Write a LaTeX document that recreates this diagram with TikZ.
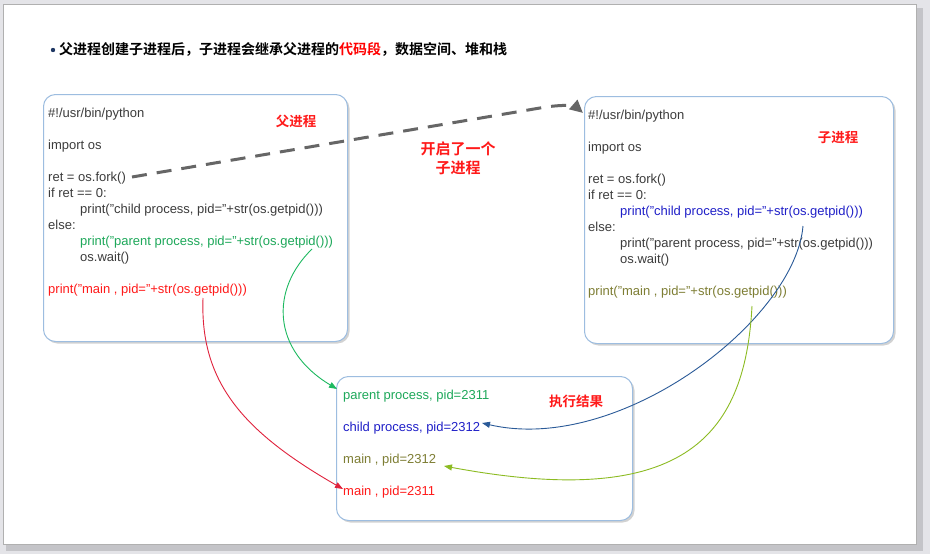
\documentclass[tikz,border=0pt]{standalone}
\usepackage{fontspec}
\setmainfont{Liberation Sans}
\newfontfamily\cjk{Noto Sans CJK SC}[BoldFont={Noto Sans CJK SC Bold}]
\usetikzlibrary{arrows.meta,shadows}
\definecolor{codegray}{HTML}{3C3C3C}
\definecolor{cgreen}{HTML}{1EA85A}
\definecolor{cblue}{HTML}{2020C8}
\definecolor{colive}{HTML}{7E7E34}
\definecolor{cred}{HTML}{FF1A1A}
\definecolor{lgreen}{HTML}{1DB960}
\definecolor{lblue}{HTML}{2A5A98}
\definecolor{lolive}{HTML}{8CBB22}
\definecolor{lred}{HTML}{E0223C}
\definecolor{boxborder}{HTML}{9DBDE0}
\definecolor{dashgray}{HTML}{666666}
\definecolor{bgouter}{HTML}{E4E4E8}
\definecolor{bgshadow}{HTML}{C4C4C8}
\definecolor{pageedge}{HTML}{B0B0B0}
\definecolor{bulletblue}{HTML}{1F3864}
\tikzset{
  box/.style={draw=boxborder, line width=1pt, rounded corners=12pt, fill=white,
    anchor=north west, inner sep=0pt,
    drop shadow={shadow xshift=2pt, shadow yshift=-2pt, opacity=0.35, fill=gray}},
  code/.style={font=\fontsize{13}{15}\selectfont, text=codegray, inner sep=0pt, anchor=base west},
  lab/.style={font=\cjk\bfseries\fontsize{13.5}{15}\selectfont, text=cred, inner sep=0pt},
  conn/.style={line width=0.9pt, -{Triangle[length=8pt,width=6pt]}},
}
\begin{document}
\begin{tikzpicture}[x=1pt,y=-1pt]
\useasboundingbox (0,0) rectangle (930,554);
% page background
\fill[bgouter] (0,0) rectangle (930,554);
\fill[bgshadow] (6,8) rectangle (923,551);
\filldraw[fill=white, draw=pageedge, line width=0.6pt] (3,4) rectangle (916,544);
% title
\fill[bulletblue] (53,50) circle (2.2pt);
\node[font=\cjk\bfseries\fontsize{14}{16}\selectfont, text=black, anchor=west, inner sep=0pt] (title) at (59,49)
  {父进程创建子进程后，子进程会继承父进程的\textcolor{red}{代码段}，数据空间、堆和栈};
% boxes
\node[box, minimum width=304pt, minimum height=247pt] (L) at (43,94) {};
\node[box, minimum width=309pt, minimum height=247pt] (R) at (584,96) {};
\node[box, minimum width=296pt, minimum height=144pt] (B) at (336,376) {};
% left code
\node[code] (l1) at (48,117) {\#!/usr/bin/python};
\node[code] (l2) at (48,149) {import os};
\node[code] (l3) at (48,181) {ret = os.fork()};
\node[code] (l4) at (48,197) {if ret == 0:};
\node[code] (l5) at (80,213) {print("child process, pid="+str(os.getpid()))};
\node[code] (l6) at (48,229) {else:};
\node[code, text=cgreen] (l7) at (80,245) {print("parent process, pid="+str(os.getpid()))};
\node[code] (l8) at (80,261) {os.wait()};
\node[code, text=cred] (l9) at (48,293) {print("main , pid="+str(os.getpid()))};
\node[lab] (lp) at (296,121) {父进程};
% right code
\node[code] (r1) at (588,119) {\#!/usr/bin/python};
\node[code] (r2) at (588,151) {import os};
\node[code] (r3) at (588,183) {ret = os.fork()};
\node[code] (r4) at (588,199) {if ret == 0:};
\node[code, text=cblue] (r5) at (620,215) {print("child process, pid="+str(os.getpid()))};
\node[code] (r6) at (588,231) {else:};
\node[code] (r7) at (620,247) {print("parent process, pid="+str(os.getpid()))};
\node[code] (r8) at (620,263) {os.wait()};
\node[code, text=colive] (r9) at (588,295) {print("main , pid="+str(os.getpid()))};
\node[lab] (rp) at (838,137) {子进程};
% bottom results
\node[code, text=cgreen] (b1) at (343,399) {parent process, pid=2311};
\node[code, text=cblue] (b2) at (343,431) {child process, pid=2312};
\node[code, text=colive] (b3) at (343,463) {main , pid=2312};
\node[code, text=cred] (b4) at (343,495) {main , pid=2311};
\node[lab] (bp) at (576,401) {执行结果};
% middle label
\node[lab, font=\cjk\bfseries\fontsize{15}{19}\selectfont, align=center] (mid) at (458,158) {开启了一个\\子进程};
% connectors
\coordinate (ds) at (132,177);
\coordinate (de) at (583,113);
\draw[dashgray, line width=3pt, dash pattern=on 15pt off 10pt,
  -{Triangle[length=13pt,width=12pt]}]
  (ds) -- (540,108) .. controls (562,104) and (575,106) .. (de);
\coordinate (gs) at (312,249);
\coordinate (ge) at (337,389);
\draw[conn, lgreen] (gs) .. controls (270,290) and (272,350) .. (ge);
\coordinate (rs) at (203,298);
\coordinate (re) at (343,489);
\draw[conn, lred] (rs) .. controls (200,380) and (240,430) .. (re);
\coordinate (bs) at (803,226);
\coordinate (be) at (482,423);
\draw[conn, lblue] (bs) .. controls (795,320) and (620,455) .. (be);
\coordinate (os) at (752,306);
\coordinate (oe) at (444,466);
\draw[conn, lolive] (os) .. controls (745,440) and (680,510) .. (oe);
\end{tikzpicture}
\end{document}
